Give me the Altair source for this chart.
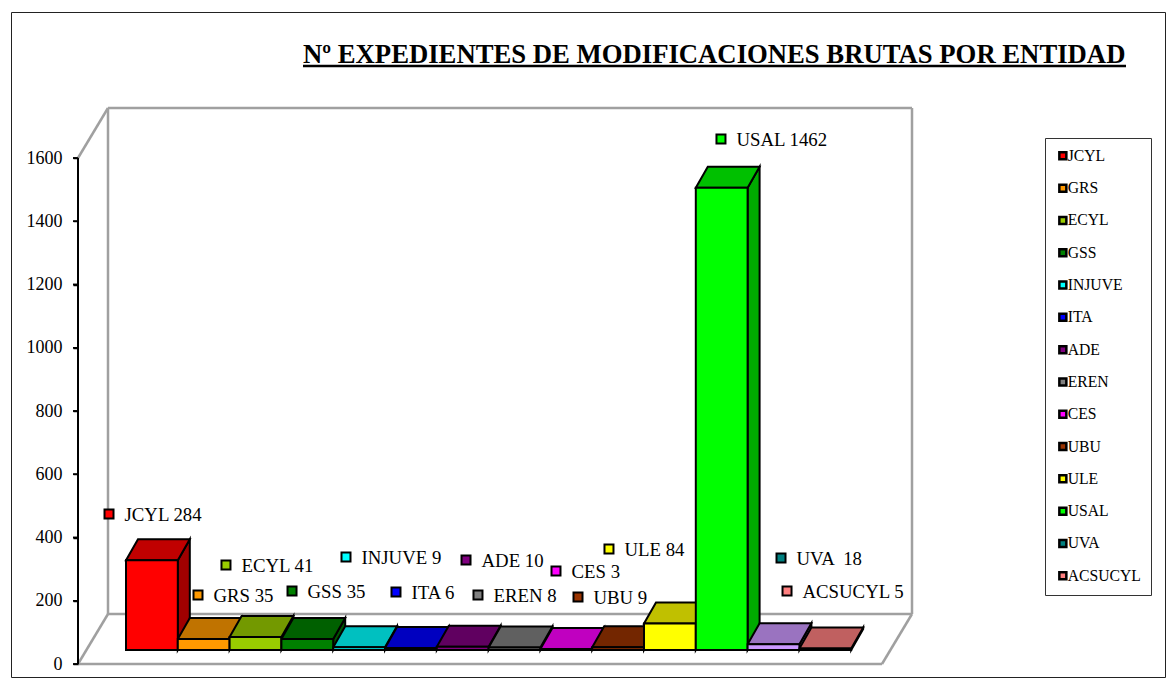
import altair as alt
import pandas as pd

# ---- chart values -------------------------------------------------------
names = ["JCYL", "GRS", "ECYL", "GSS", "INJUVE", "ITA", "ADE", "EREN", "CES", "UBU", "ULE", "USAL", "UVA", "ACSUCYL"]
values = [284, 35, 41, 35, 9, 6, 10, 8, 3, 9, 84, 1462, 18, 5]
labels = ["JCYL 284", "GRS 35", "ECYL 41", "GSS 35", "INJUVE 9", "ITA 6", "ADE 10", "EREN 8", "CES 3", "UBU 9",
          "ULE 84", "USAL 1462", "UVA \u00a018", "ACSUCYL 5"]
legend_colors = ["#FF0000", "#FF9900", "#99CC00", "#008000", "#00FFFF", "#0000FF", "#800080", "#808080", "#FF00FF",
                 "#993300", "#FFFF00", "#00FF00", "#008080", "#FF8080"]
front_colors = legend_colors[:12] + ["#CC99FF", "#FF8080"]
top_colors = ["#C00000", "#C07300", "#739900", "#006000", "#00C0C0", "#0000C0", "#600060", "#606060", "#C000C0",
              "#732600", "#C0C000", "#00C000", "#9A73C0", "#C06060"]
side_colors = ["#A00000", "#A06000", "#608000", "#005500", "#00A0A0", "#0000A0", "#500050", "#505050", "#A000A0",
               "#602000", "#A0A000", "#00AA00", "#8060A0", "#A05050"]
# hand-placed data labels, in axis units (bar slot, value)
label_slot = [-0.328, 1.39, 1.93, 3.205, 4.247, 5.212, 6.564, 6.795, 8.301, 8.726, 9.324, 11.486, 12.645, 12.761]
label_value = [474, 218, 313, 231, 338, 228, 329, 218, 294, 212, 364, 1660, 335, 231]
y_ticks = [0, 200, 400, 600, 800, 1000, 1200, 1400, 1600]
title_text = "Nº EXPEDIENTES DE MODIFICACIONES BRUTAS POR ENTIDAD"

# ---- projection constants ----------------------------------------------
W, H = 1160, 680
PX_X = 51.8          # px per bar slot
PX_Y = 506 / 1600    # px per value unit
SLOT0 = 126          # page x of slot 0
ZERO = 664           # page y of value 0
def sx(px): return (px - SLOT0) / PX_X
def vy(py): return (ZERO - py) / PX_Y

x_scale = alt.Scale(domain=[sx(8), sx(8 + W)], range=[0, W], nice=False, zero=False)
y_scale = alt.Scale(domain=[vy(8 + H), vy(8)], range=[H, 0], nice=False, zero=False)
X = lambda f: alt.X(f, type="quantitative", scale=x_scale, axis=None)
Y = lambda f: alt.Y(f, type="quantitative", scale=y_scale, axis=None, stack=None)

BASE = 14 / PX_Y     # bars stand a little behind the floor's front edge
DX = 12 / PX_X       # bar depth
DY = 21 / PX_Y
WDX = 30 / PX_X      # wall depth
WDY = 50 / PX_Y
FX0, FX1 = sx(78), sx(882)
TOP = 1600
TICK = 5 / PX_X

bars = pd.DataFrame({"name": names, "value": values, "slot": range(len(names)),
                     "front": front_colors, "top": top_colors, "side": side_colors})
bars["x0"] = bars.slot
bars["x1"] = bars.slot + 1
bars["y0"] = BASE
bars["y1"] = BASE + bars.value

# faces as areas
side_rows, top_rows = [], []
for r in bars.itertuples():
    for k in (0, 1):
        side_rows.append(dict(name=r.name, fill=r.side, x=r.x1 + k * DX, y=r.y0 + k * DY, y2=r.y1 + k * DY))
        top_rows.append(dict(name=r.name, fill=r.top, y=r.y1 + k * DY, x=r.x0 + k * DX, x2=r.x1 + k * DX))
sides = pd.DataFrame(side_rows)
tops = pd.DataFrame(top_rows)

# walls and floor outline
seg = pd.DataFrame([
    dict(x=FX0, y=TOP, x2=FX0 + WDX, y2=TOP + WDY),
    dict(x=FX0 + WDX, y=TOP + WDY, x2=FX1 + WDX, y2=TOP + WDY),
    dict(x=FX0 + WDX, y=WDY, x2=FX0 + WDX, y2=TOP + WDY),
    dict(x=FX1 + WDX, y=WDY, x2=FX1 + WDX, y2=TOP + WDY),
    dict(x=FX0 + WDX, y=WDY, x2=FX1 + WDX, y2=WDY),
    dict(x=FX0, y=0, x2=FX0 + WDX, y2=WDY),
    dict(x=FX1, y=0, x2=FX1 + WDX, y2=WDY),
    dict(x=FX0, y=0, x2=FX1, y2=0),
])

SERIF = "Liberation Serif"
STROKE = "#000000"

frame = alt.Chart(pd.DataFrame([dict(x=sx(11.5), x2=sx(1165.5), y=vy(677.5), y2=vy(12.5))])).mark_rect(
    filled=False, stroke="#222222", strokeWidth=1
).encode(x=X("x"), x2="x2", y=Y("y"), y2="y2")

walls = alt.Chart(seg).mark_rule(color="#A0A0A0", strokeWidth=2.5).encode(x=X("x"), x2="x2", y=Y("y"), y2="y2")

# the layer that carries the y axis and its labels
tick_df = pd.DataFrame({"y": y_ticks, "x": [FX0 - TICK] * len(y_ticks), "x2": [FX0] * len(y_ticks)})
axis_labels = alt.Chart(tick_df).mark_rule(color="black", strokeWidth=1.5).encode(
    x=alt.X("x:Q", scale=x_scale, axis=None),
    x2="x2",
    y=alt.Y("y:Q", scale=y_scale, title=None, axis=alt.Axis(
        values=y_ticks, orient="left", offset=-70, domain=False, grid=False, ticks=True, tickColor="black", tickSize=5,
        tickWidth=1.5, labelFont=SERIF, labelFontSize=18, labelColor="black", labelPadding=11, format="d", zindex=1)),
)
tick_rules = alt.Chart(tick_df).mark_rule(color="black", strokeWidth=1.5).encode(x=X("x"), x2="x2", y=Y("y"))
axis_line = alt.Chart(pd.DataFrame({"y": [0], "y2": [TOP], "x": [FX0]})).mark_rule(color="black", strokeWidth=2).encode(
    x=X("x"), y=Y("y"), y2="y2")

side_layer = alt.Chart(sides).mark_area(stroke=STROKE, strokeWidth=2, line=False, interpolate="linear", opacity=1).encode(
    x=X("x"), y=Y("y"), y2="y2", detail="name:N", fill=alt.Fill("fill:N", scale=None, legend=None))

top_layer = alt.Chart(tops).mark_area(stroke=STROKE, strokeWidth=2, orient="horizontal", line=False, interpolate="linear", opacity=1).encode(
    y=Y("y"), x=X("x"), x2="x2", detail="name:N", fill=alt.Fill("fill:N", scale=None, legend=None))

front_layer = alt.Chart(bars).mark_rect(stroke=STROKE, strokeWidth=2).encode(
    x=X("x0"), x2="x1", y=Y("y0"), y2="y1", fill=alt.Fill("front:N", scale=None, legend=None))

marks_df = pd.DataFrame({"name": names, "label": labels, "lx": label_slot, "ly": label_value})
markers = alt.Chart(marks_df).mark_square(size=81, opacity=1, stroke="black", strokeWidth=2).encode(
    x=X("lx"), y=Y("ly"),
    fill=alt.Fill("name:N", scale=alt.Scale(domain=names, range=legend_colors), legend=alt.Legend(
        title=None, orient="none", legendX=1037, legendY=130, padding=10, strokeColor="#333333",
        symbolType="square", symbolSize=49, symbolStrokeColor="black", symbolStrokeWidth=2.5,
        labelFont=SERIF, labelFontSize=15.7, labelColor="black", rowPadding=14.3, labelOffset={"expr": "-3"},
        columns=1, zindex=1)),
)
texts = alt.Chart(marks_df).mark_text(align="left", baseline="middle", dx=15.5, dy=1, font=SERIF, fontSize=18.8, color="black").encode(
    x=X("lx"), y=Y("ly"), text="label:N")

title_df = pd.DataFrame({"x": [sx(303)], "y": [vy(54.5)], "t": [title_text], "ux": [sx(303)], "ux2": [sx(1126)], "uy": [vy(66)]})
title = alt.Chart(title_df).mark_text(align="left", baseline="middle", font=SERIF, fontSize=26.7, fontWeight="bold", color="black").encode(
    x=X("x"), y=Y("y"), text="t:N")
underline = alt.Chart(title_df).mark_rule(color="black", strokeWidth=2.5).encode(x=X("ux"), x2="ux2", y=Y("uy"))

chart = alt.layer(axis_labels, frame, walls, side_layer, top_layer, front_layer, markers, texts, title, underline, tick_rules, axis_line).properties(
    width=W, height=H, padding=0, autosize=alt.AutoSizeParams(type="none"), background="white"
).configure_view(stroke=None).resolve_legend(fill="independent").resolve_axis(y="independent")

chart.save("out.html", embed_options={"renderer": "svg", "actions": False})
